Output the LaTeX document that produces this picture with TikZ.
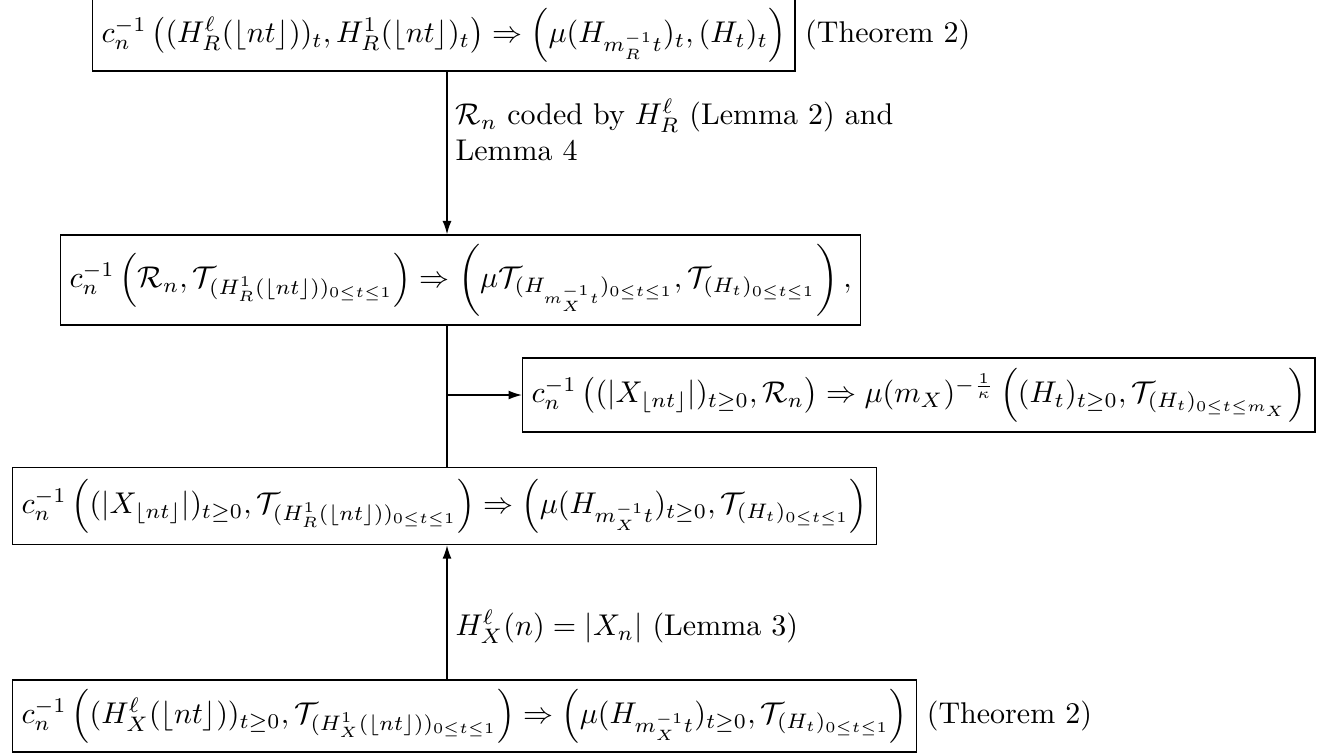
\documentclass[tikz,border=0pt]{standalone}
\usepackage{amsmath,amssymb}
\usetikzlibrary{arrows.meta}
\begin{document}
\begin{tikzpicture}[x=0.3333pt,y=-0.3333pt,
  eqbox/.style={draw,inner sep=3pt,anchor=west},
  note/.style={anchor=west,inner sep=0pt,align=left},
  conn/.style={-{Latex[length=4.5pt,width=3pt]},line width=0.5pt},
  plain/.style={line width=0.5pt}]
\useasboundingbox (0,0) rectangle (1326,753);
\coordinate (sp) at (447,0);
\node[eqbox,minimum height=22.7pt] (b1) at (92,35)
 {$c_n^{-1}\left((H_R^{\ell}(\lfloor nt\rfloor))_t, H_R^1(\lfloor nt\rfloor)_t\right) \Rightarrow \left(\mu(H_{m_R^{-1}t})_t, (H_t)_t\right)$};
\node[note] (t1) at ([xshift=3pt]b1.east) {(Theorem 2)};
\node[eqbox,minimum height=25.3pt] (b2) at (60,280)
 {$c_n^{-1}\left(\mathcal{R}_n, \mathcal{T}_{(H_R^1(\lfloor nt\rfloor))_{0\le t\le 1}}\right) \Rightarrow \left(\mu\mathcal{T}_{(H_{m_X^{-1}t})_{0\le t\le 1}}, \mathcal{T}_{(H_t)_{0\le t\le 1}}\right),$};
\node[eqbox,minimum height=24.7pt] (b3) at (522,395)
 {$c_n^{-1}\left((|X_{\lfloor nt\rfloor}|)_{t\ge 0}, \mathcal{R}_n\right) \Rightarrow \mu(m_X)^{-\frac{1}{\kappa}}\left((H_t)_{t\ge0}, \mathcal{T}_{(H_t)_{0\le t\le m_X}}\right)$};
\node[eqbox,minimum height=25.7pt] (b4) at (12,506)
 {$c_n^{-1}\left((|X_{\lfloor nt\rfloor}|)_{t\ge 0}, \mathcal{T}_{(H_R^1(\lfloor nt\rfloor))_{0\le t\le 1}}\right) \Rightarrow \left(\mu(H_{m_X^{-1}t})_{t\ge0}, \mathcal{T}_{(H_t)_{0\le t\le 1}}\right)$};
\node[eqbox,minimum height=24pt] (b5) at (12,716)
 {$c_n^{-1}\left((H_X^{\ell}(\lfloor nt\rfloor))_{t\ge 0}, \mathcal{T}_{(H_X^1(\lfloor nt\rfloor))_{0\le t\le 1}}\right) \Rightarrow \left(\mu(H_{m_X^{-1}t})_{t\ge0}, \mathcal{T}_{(H_t)_{0\le t\le 1}}\right)$};
\node[note] (t5) at ([xshift=3pt]b5.east) {(Theorem 2)};
\node[note] (l1) at (455,130) {$\mathcal{R}_n$ coded by $H_R^{\ell}$ (Lemma 2) and\\ Lemma 4};
\node[note] (l2) at (455,627) {$H_X^{\ell}(n) = |X_n|$ (Lemma 3)};
\draw[conn] (b1.south -| sp) -- (b2.north -| sp);
\draw[plain] (b2.south -| sp) -- (b4.north -| sp);
\draw[conn] (b3.west -| sp) -- (b3.west);
\draw[conn] (b5.north -| sp) -- (b4.south -| sp);
\end{tikzpicture}
\end{document}
